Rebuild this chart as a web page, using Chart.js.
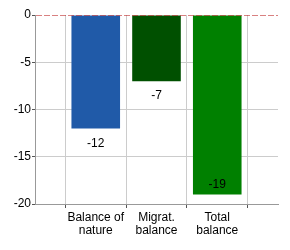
<!DOCTYPE html>
<html>
<head>
<meta charset="utf-8">
<script src="https://cdn.jsdelivr.net/npm/chart.js@4"></script>
<style>
  html, body { margin: 0; padding: 0; background: #fff; }
  #wrap { width: 290px; height: 250px; }
</style>
</head>
<body>
<div id="wrap"><canvas id="chart"></canvas></div>
<script>
// Categorias (las posiciones vacias dejan margen en los extremos del eje)
const categories = [[''], ['Balance of', 'nature'], ['Migrat.', 'balance'], ['Total', 'balance'], ['']];
const values = [null, -12, -7, -19, null];
const barColors = ['#000', '#205aa8', '#005000', '#008000', '#000'];
const yTicks = [0, -5, -10, -15, -20];

// Etiquetas de valor: debajo del extremo de la barra, o dentro si no cabe
const valueLabels = {
    id: 'valueLabels',
    afterDatasetsDraw(chart) {
        const ctx = chart.ctx;
        const area = chart.chartArea;
        const meta = chart.getDatasetMeta(0);
        ctx.save();
        ctx.font = '12px "Liberation Sans", Arial, sans-serif';
        ctx.fillStyle = '#000';
        ctx.textAlign = 'center';
        ctx.textBaseline = 'middle';
        meta.data.forEach((bar, i) => {
            const v = values[i];
            if (v === null) return;
            let y = bar.y + 15;
            if (y + 6 > area.bottom) y = bar.y - 10;
            ctx.fillText(String(v), bar.x, y);
        });
        // Linea de cero discontinua
        const y0 = chart.scales.y.getPixelForValue(0);
        ctx.strokeStyle = 'rgba(185,25,25,0.55)';
        ctx.lineWidth = 1;
        ctx.setLineDash([6, 2]);
        ctx.beginPath();
        ctx.moveTo(area.left + 1, y0 + 0.5);
        ctx.lineTo(area.right, y0 + 0.5);
        ctx.stroke();
        ctx.restore();
    }
};

const chart = new Chart(document.getElementById('chart'), {
    type: 'bar',
    data: {
        labels: categories,
        datasets: [{
            data: values,
            backgroundColor: barColors,
            borderWidth: 0,
            barPercentage: 0.8,
            categoryPercentage: 1
        }]
    },
    options: {
        responsive: true,
        maintainAspectRatio: false,
        animation: false,
        layout: { padding: { top: 15, right: 12, bottom: 0, left: 0 } },
        plugins: {
            legend: { display: false },
            tooltip: { enabled: false }
        },
        scales: {
            x: {
                offset: false,
                grid: { color: '#cccccc', tickLength: 4, tickColor: '#555' },
                border: { color: '#999999' },
                ticks: {
                    color: '#000',
                    padding: 3,
                    maxRotation: 0,
                    autoSkip: false,
                    font: { family: '"Liberation Sans", Arial, sans-serif', size: 12, lineHeight: 1.1 }
                },
                afterFit(scale) { scale.height = 46; }
            },
            y: {
                min: -20,
                max: 0,
                grid: {
                    color: (c) => (c.tick && c.tick.value === 0) ? 'rgba(0,0,0,0)' : '#cccccc',
                    tickLength: 3,
                    tickColor: '#555'
                },
                border: { color: '#999999' },
                afterBuildTicks(scale) { scale.ticks = yTicks.map(v => ({ value: v })); },
                ticks: {
                    color: '#000',
                    padding: 1,
                    font: { family: '"Liberation Sans", Arial, sans-serif', size: 12 }
                },
                afterFit(scale) { scale.width = 35; }
            }
        }
    },
    plugins: [valueLabels]
});
</script>
</body>
</html>
